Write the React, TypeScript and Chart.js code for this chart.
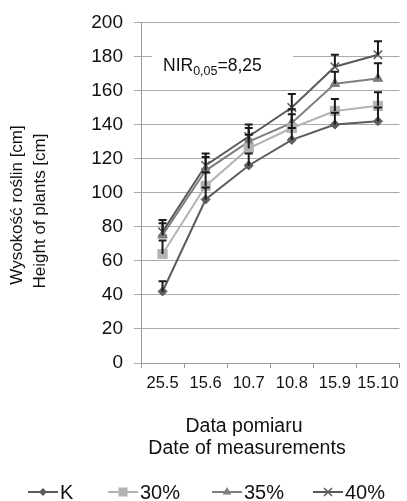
import React, { useEffect, useRef } from 'react';
import { Chart, registerables } from 'chart.js';

Chart.register(...registerables);

const categories = ['25.5', '15.6', '10.7', '10.8', '15.9', '15.10'];
const seriesNames = ['K', '30%', '35%', '40%'];
const valuesK = [42, 96, 116, 131, 140, 142];
const values30 = [64, 104, 126, 138, 148, 151];
const values35 = [75, 113, 130, 141, 164, 167];
const values40 = [77, 116, 133, 150, 174, 181];
const errK = [6, 7, 7, 7, 7, 8];
const err30 = [8, 8, 8, 8, 7, 8];
const err35 = [7, 8, 8, 8, 7, 9];
const err40 = [7, 7, 7, 8, 7, 8];
const yMin = 0;
const yMax = 200;
const yStep = 20;
const yTitleLines = ['Wysokość roślin [cm]', 'Height of plants [cm]'];
const xTitleLines = ['Data pomiaru', 'Date of measurements'];
const nirMain = 'NIR';
const nirSub = '0,05';
const nirRest = '=8,25';

const FONT = '"Liberation Sans", Arial, sans-serif';
const TEXT = '#111';

const seriesColors = ['#5c5c5c', '#b3b3b3', '#7f7f7f', '#5a5a5a'];
const seriesStyles = ['rectRot', 'rect', 'triangle', 'crossRot'];
const seriesRadius = [4.5, 6.5, 5.5, 6];
const allValues = [valuesK, values30, values35, values40];
const allErrors = [errK, err30, err35, err40];

function drawMarker(ctx: CanvasRenderingContext2D, style: string, x: number, y: number, color: string) {
  ctx.save();
  ctx.fillStyle = color;
  ctx.strokeStyle = color;
  ctx.lineWidth = 1.5;
  ctx.beginPath();
  if (style === 'rectRot') {
    const r = 4;
    ctx.moveTo(x, y - r); ctx.lineTo(x + r, y); ctx.lineTo(x, y + r); ctx.lineTo(x - r, y); ctx.closePath(); ctx.fill();
  } else if (style === 'rect') {
    const h = 4.5;
    ctx.rect(x - h, y - h, 2 * h, 2 * h); ctx.fill();
  } else if (style === 'triangle') {
    const r = 5;
    ctx.moveTo(x, y - r); ctx.lineTo(x + r * 0.87, y + r / 2); ctx.lineTo(x - r * 0.87, y + r / 2); ctx.closePath(); ctx.fill();
  } else {
    const s = 4;
    ctx.moveTo(x - s, y - s); ctx.lineTo(x + s, y + s); ctx.moveTo(x + s, y - s); ctx.lineTo(x - s, y + s); ctx.stroke();
  }
  ctx.restore();
}

const errorBarPlugin = {
  id: 'errorBars',
  afterDatasetsDraw(chart: any) {
    const ctx = chart.ctx as CanvasRenderingContext2D;
    const yScale = chart.scales.y;
    ctx.save();
    ctx.strokeStyle = '#1a1a1a';
    ctx.lineWidth = 2;
    chart.data.datasets.forEach((ds: any, i: number) => {
      const meta = chart.getDatasetMeta(i);
      const errs = allErrors[i];
      meta.data.forEach((pt: any, j: number) => {
        const v = ds.data[j];
        const yTop = yScale.getPixelForValue(v + errs[j]);
        ctx.beginPath();
        ctx.moveTo(pt.x, pt.y);
        ctx.lineTo(pt.x, yTop);
        ctx.moveTo(pt.x - 4, yTop);
        ctx.lineTo(pt.x + 4, yTop);
        ctx.stroke();
      });
    });
    ctx.restore();
  },
};

const decorPlugin = {
  id: 'decor',
  beforeDatasetsDraw(chart: any) {
    const ctx = chart.ctx as CanvasRenderingContext2D;
    const a = chart.chartArea;
    ctx.save();
    ctx.fillStyle = '#fff';
    ctx.fillRect(a.left + 11, 44, 141, 36);
    ctx.fillStyle = TEXT;
    ctx.textBaseline = 'alphabetic';
    ctx.textAlign = 'left';
    let x = a.left + 22;
    ctx.font = `17.5px ${FONT}`;
    ctx.fillText(nirMain, x, 71);
    x += ctx.measureText(nirMain).width;
    ctx.font = `12.5px ${FONT}`;
    ctx.fillText(nirSub, x, 75);
    x += ctx.measureText(nirSub).width;
    ctx.font = `17.5px ${FONT}`;
    ctx.fillText(nirRest, x, 71);
    ctx.restore();
  },
  afterDraw(chart: any) {
    const ctx = chart.ctx as CanvasRenderingContext2D;
    ctx.save();
    ctx.fillStyle = TEXT;
    ctx.font = `17px ${FONT}`;
    ctx.textAlign = 'center';
    ctx.textBaseline = 'middle';
    // y title
    const yCenters = [[17.5, 205], [40, 211]];
    yTitleLines.forEach((t, i) => {
      ctx.save();
      ctx.translate(yCenters[i][0], yCenters[i][1]);
      ctx.rotate(-Math.PI / 2);
      ctx.fillText(t, 0, 0);
      ctx.restore();
    });
    // x title
    ctx.font = `19.5px ${FONT}`;
    const xCenters = [[244, 427], [247, 449]];
    xTitleLines.forEach((t, i) => {
      ctx.fillText(t, xCenters[i][0], xCenters[i][1]);
    });
    // legend
    const legendX = [28, 108, 212, 313];
    const ly = 492;
    ctx.textAlign = 'left';
    ctx.font = `20px ${FONT}`;
    seriesNames.forEach((name, i) => {
      const x0 = legendX[i];
      ctx.strokeStyle = seriesColors[i];
      ctx.lineWidth = 2;
      ctx.beginPath();
      ctx.moveTo(x0, ly);
      ctx.lineTo(x0 + 30, ly);
      ctx.stroke();
      drawMarker(ctx, seriesStyles[i], x0 + 15, ly, seriesColors[i]);
      ctx.fillStyle = TEXT;
      ctx.fillText(name, x0 + 32, ly + 1);
    });
    ctx.restore();
  },
};

export default function App() {
  const canvasRef = useRef<HTMLCanvasElement | null>(null);

  useEffect(() => {
    if (!canvasRef.current) return;
    const chart = new Chart(canvasRef.current, {
      type: 'line',
      data: {
        labels: categories,
        datasets: seriesNames.map((name, i) => ({
          label: name,
          data: allValues[i],
          borderColor: seriesColors[i],
          backgroundColor: seriesColors[i],
          borderWidth: 2,
          pointStyle: seriesStyles[i] as any,
          pointRadius: seriesRadius[i],
          pointBorderWidth: i === 3 ? 1.5 : 1,
          pointBackgroundColor: seriesColors[i],
          pointBorderColor: seriesColors[i],
          tension: 0,
        })),
      },
      options: {
        animation: false,
        responsive: false,
        layout: { padding: { top: 20, right: 2, left: 0, bottom: 0 } },
        plugins: {
          legend: { display: false },
          tooltip: { enabled: false },
        },
        scales: {
          x: {
            type: 'category',
            offset: true,
            grid: { display: true, drawOnChartArea: false, drawTicks: true, tickLength: 5, color: '#999', offset: true },
            border: { display: true, color: '#999' },
            ticks: { font: { family: FONT, size: 16.5 }, color: TEXT, padding: 6, maxRotation: 0, autoSkip: false },
            afterFit: (s: any) => { s.height = 138; },
          },
          y: {
            min: yMin,
            max: yMax,
            ticks: { stepSize: yStep, font: { family: FONT, size: 19 }, color: TEXT, padding: 11 },
            grid: { color: '#aaa', tickLength: 7, drawTicks: true },
            border: { display: true, color: '#999' },
            afterFit: (s: any) => { s.width = 141; },
          },
        },
      },
      plugins: [decorPlugin, errorBarPlugin],
    });
    return () => chart.destroy();
  }, []);

  return (
    <div style={{ position: 'fixed', left: 0, top: 0, width: 407, height: 501, background: '#fff' }}>
      <canvas ref={canvasRef} width={407} height={501} style={{ display: 'block', width: 407, height: 501 }} />
    </div>
  );
}
